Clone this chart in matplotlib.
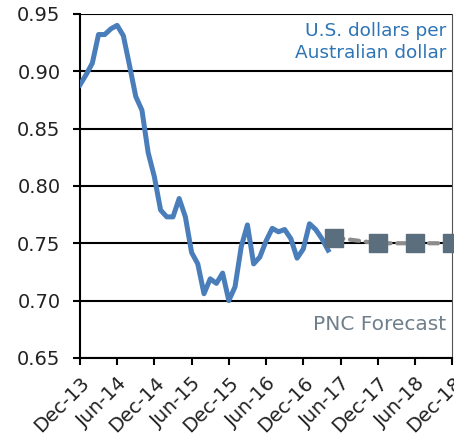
import numpy as np
import matplotlib.pyplot as plt

plt.rcParams['font.family'] = ['DejaVu Sans']

# monthly AUD/USD, Dec-13 .. Apr-17 (month index 0 = Dec-13)
actual = [0.888, 0.897, 0.907, 0.932, 0.932, 0.937, 0.940, 0.931, 0.905, 0.878,
          0.866, 0.829, 0.808, 0.779, 0.773, 0.773, 0.789, 0.773, 0.742, 0.732,
          0.706, 0.719, 0.715, 0.724, 0.700, 0.712, 0.747, 0.766, 0.732, 0.738,
          0.752, 0.763, 0.760, 0.762, 0.754, 0.737, 0.745, 0.767, 0.762, 0.754,
          0.744]
fc_months = [41, 48, 54, 60]
forecast = [0.755, 0.750, 0.750, 0.750]
tick_labels = ['Dec-13', 'Jun-14', 'Dec-14', 'Jun-15', 'Dec-15', 'Jun-16',
               'Dec-16', 'Jun-17', 'Dec-17', 'Jun-18', 'Dec-18']

BLUE = '#4a7ebb'
TXT_BLUE = '#2e75b6'
GREY = '#8c8c8c'
MARK = '#5b6e7d'

fig = plt.figure(figsize=(4.54, 4.48), dpi=100)
ax = fig.add_axes([0.176, 0.201, 0.82, 0.768])

months = np.arange(len(actual))
ax.plot(months, actual, color=BLUE, lw=3.6, solid_joinstyle='round', zorder=3)
ax.plot(fc_months, forecast, color=GREY, lw=3.0, ls=(0, (2.2, 1.6)),
        dash_capstyle='round', zorder=4)
ax.plot(fc_months, forecast, ls='none', marker='s', ms=13, color=MARK,
        zorder=5, clip_on=False)

ax.set_xlim(0, 60)
ax.set_ylim(0.65, 0.95)
ax.set_yticks(np.arange(0.65, 0.951, 0.05))
ax.set_yticklabels([f'{v:.2f}' for v in np.arange(0.65, 0.951, 0.05)])
ax.set_xticks(np.arange(0, 61, 6))
ax.set_xticklabels(tick_labels, rotation=45, ha='right', rotation_mode='anchor')

ax.grid(True, axis='y', color='black', lw=1.5)
ax.set_axisbelow(True)
for s in ['left', 'bottom']:
    ax.spines[s].set_linewidth(1.5)
ax.spines['top'].set_visible(False)
ax.spines['right'].set_linewidth(0.8)
ax.spines['right'].set_color('#555555')
ax.tick_params(axis='both', labelsize=14, direction='out', length=5, width=1.5,
               color='black', labelcolor='#222222')
ax.tick_params(axis='y', pad=9)
ax.tick_params(axis='x', pad=6)

ax.text(0.985, 0.975, 'U.S. dollars per\nAustralian dollar', transform=ax.transAxes,
        ha='right', va='top', color=TXT_BLUE, fontsize=13.3, linespacing=1.25)
ax.text(0.985, 0.096, 'PNC Forecast', transform=ax.transAxes,
        ha='right', va='center', color='#6f7f8c', fontsize=14.5)

fig.savefig('out.png', dpi=100)
